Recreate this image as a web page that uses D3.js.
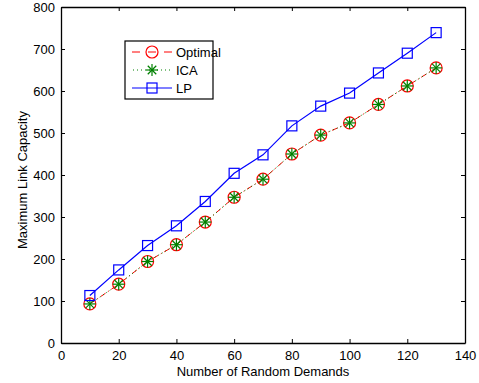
<!DOCTYPE html>
<html>
<head>
<meta charset="UTF-8">
<script src="https://d3js.org/d3.v7.min.js"></script>
<style>
  body { margin: 0; background: #fff; }
  text { font-family: "Liberation Sans", Arial, sans-serif; }
</style>
</head>
<body>
<script>
    // data
    const demands = [10, 20, 30, 40, 50, 60, 70, 80, 90, 100, 110, 120, 130];
    const optimal = [93, 140, 194, 234, 288, 347, 390, 450, 495, 524, 568, 612, 655];
    const ica     = [93, 140, 194, 234, 288, 347, 390, 450, 495, 524, 568, 612, 655];
    const lp      = [113, 174, 232, 279, 337, 404, 448, 517, 564, 595, 643, 690, 739];
    const xTicks = [0, 20, 40, 60, 80, 100, 120, 140];
    const yTicks = [0, 100, 200, 300, 400, 500, 600, 700, 800];

    const W = 479, H = 383;
    const m = { left: 61, right: 14, top: 7, bottom: 40 };

    const svg = d3.select("body").append("svg")
        .attr("width", W)
        .attr("height", H);

    const x = d3.scaleLinear().domain([0, 140]).range([m.left, W - m.right]);
    const y = d3.scaleLinear().domain([0, 800]).range([H - m.bottom, m.top]);

    // axes (MATLAB style, ticks pointing in, box around)
    const tk = 4;
    svg.append("g")
        .attr("transform", `translate(0,${y(0)})`)
        .call(d3.axisBottom(x).tickValues(xTicks).tickSizeInner(-tk).tickSizeOuter(0).tickPadding(8));
    svg.append("g")
        .attr("transform", `translate(0,${y(800)})`)
        .call(d3.axisTop(x).tickValues(xTicks).tickSizeInner(-tk).tickSizeOuter(0).tickFormat(""));
    svg.append("g")
        .attr("transform", `translate(${x(0)},0)`)
        .call(d3.axisLeft(y).tickValues(yTicks).tickSizeInner(-tk).tickSizeOuter(0).tickPadding(6));
    svg.append("g")
        .attr("transform", `translate(${x(140)},0)`)
        .call(d3.axisRight(y).tickValues(yTicks).tickSizeInner(-tk).tickSizeOuter(0).tickFormat(""));

    svg.selectAll(".domain").attr("stroke", "#000").attr("stroke-width", 1.3);
    svg.selectAll(".tick line").attr("stroke", "#000");
    svg.selectAll(".tick text").attr("font-size", 13).attr("fill", "#000")
        .attr("font-family", "Liberation Sans, Arial, sans-serif");

    // axis labels
    svg.append("text")
        .attr("x", (x(0) + x(140)) / 2)
        .attr("y", 376)
        .attr("text-anchor", "middle")
        .attr("font-size", 13)
        .text("Number of Random Demands");
    svg.append("text")
        .attr("transform", `translate(27,${(y(0) + y(800)) / 2 + 5}) rotate(-90)`)
        .attr("text-anchor", "middle")
        .attr("font-size", 13)
        .text("Maximum Link Capacity");

    const line = d3.line().x(d => x(d[0])).y(d => y(d[1]));
    const pts = vals => demands.map((d, i) => [d, vals[i]]);

    // marker helpers
    function circleMark(g, cx, cy) {
        g.append("circle").attr("cx", cx).attr("cy", cy).attr("r", 6)
            .attr("fill", "none").attr("stroke", "#ff0000").attr("stroke-width", 1.2);
    }
    function starMark(g, cx, cy) {
        const r = 6;
        for (let k = 0; k < 4; k++) {
            const a = k * Math.PI / 4;
            g.append("line")
                .attr("x1", cx - r * Math.cos(a)).attr("y1", cy - r * Math.sin(a))
                .attr("x2", cx + r * Math.cos(a)).attr("y2", cy + r * Math.sin(a))
                .attr("stroke", "#008000").attr("stroke-width", 1.2);
        }
    }
    function squareMark(g, cx, cy) {
        g.append("rect").attr("x", cx - 5).attr("y", cy - 5).attr("width", 10).attr("height", 10)
            .attr("fill", "none").attr("stroke", "#0000ff").attr("stroke-width", 1.2);
    }

    const plot = svg.append("g");

    // Optimal
    plot.append("path").attr("d", line(pts(optimal)))
        .attr("fill", "none").attr("stroke", "#ff0000").attr("stroke-width", 1)
        .attr("stroke-dasharray", "6,3,1,3");
    // ICA
    plot.append("path").attr("d", line(pts(ica)))
        .attr("fill", "none").attr("stroke", "#008000").attr("stroke-width", 1)
        .attr("stroke-dasharray", "1,3");
    // LP
    plot.append("path").attr("d", line(pts(lp)))
        .attr("fill", "none").attr("stroke", "#0000ff").attr("stroke-width", 1.2);

    pts(optimal).forEach(p => circleMark(plot, x(p[0]), y(p[1])));
    pts(ica).forEach(p => starMark(plot, x(p[0]), y(p[1])));
    pts(lp).forEach(p => squareMark(plot, x(p[0]), y(p[1])));

    // legend
    const lg = svg.append("g");
    lg.append("rect").attr("x", 125).attr("y", 41).attr("width", 88).attr("height", 58)
        .attr("fill", "#fff").attr("stroke", "#000").attr("stroke-width", 1.2);
    const names = ["Optimal", "ICA", "LP"];
    const rowY = [52, 70, 88];
    // Optimal row
    lg.append("line").attr("x1", 132).attr("x2", 172).attr("y1", rowY[0]).attr("y2", rowY[0])
        .attr("stroke", "#ff0000").attr("stroke-dasharray", "8,8");
    circleMark(lg, 152, rowY[0]);
    // ICA row
    lg.append("line").attr("x1", 133).attr("x2", 172).attr("y1", rowY[1]).attr("y2", rowY[1])
        .attr("stroke", "#008000").attr("stroke-dasharray", "1,3");
    starMark(lg, 152, rowY[1]);
    // LP row
    lg.append("line").attr("x1", 132).attr("x2", 172).attr("y1", rowY[2]).attr("y2", rowY[2])
        .attr("stroke", "#0000ff").attr("stroke-width", 1.2);
    squareMark(lg, 152, rowY[2]);
    names.forEach((n, i) => {
        lg.append("text").attr("x", 176).attr("y", rowY[i] + 4.5)
            .attr("font-size", 13).text(n);
    });
</script>
</body>
</html>
